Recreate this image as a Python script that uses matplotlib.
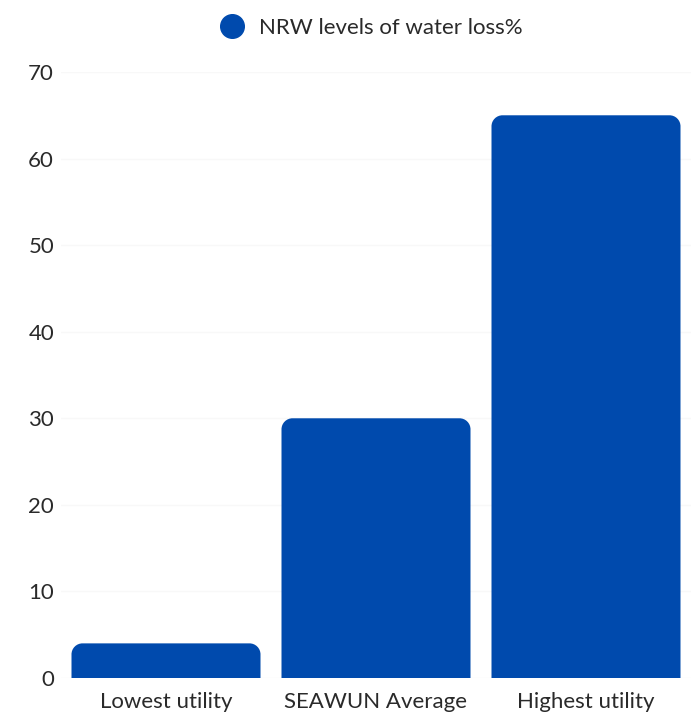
import matplotlib.pyplot as plt
from matplotlib.path import Path
from matplotlib.patches import PathPatch
from matplotlib.lines import Line2D

# Data
categories = ['Lowest utility', 'SEAWUN Average', 'Highest utility']
nrw_loss = [4, 30, 65]
series_name = 'NRW levels of water loss%'
y_ticks = [0, 10, 20, 30, 40, 50, 60, 70]

bar_color = '#004AAD'
text_color = '#2a2a2a'

plt.rcParams['font.family'] = ['Lato', 'DejaVu Sans']
plt.rcParams['font.weight'] = 'normal'

fig = plt.figure(figsize=(6.92, 7.21), dpi=100)
ax = fig.add_axes([61 / 692, 43 / 721, 630 / 692, 606 / 721])

bars = ax.bar(range(len(categories)), nrw_loss, width=0.9, color=bar_color)
ax.set_xlim(-0.5, 2.5)
ax.set_ylim(0, 70)

# swap the plain rectangles for ones with rounded top corners
fig.canvas.draw()
px_x = ax.transData.transform((1, 0))[0] - ax.transData.transform((0, 0))[0]
px_y = ax.transData.transform((0, 1))[1] - ax.transData.transform((0, 0))[1]
r_px = 11
rx, ry = r_px / px_x, r_px / px_y
k = 0.5523
for b in bars:
    x0, w, h = b.get_x(), b.get_width(), b.get_height()
    x1 = x0 + w
    verts = [
        (x0, 0), (x0, h - ry),
        (x0, h - ry + k * ry), (x0 + rx - k * rx, h), (x0 + rx, h),
        (x1 - rx, h),
        (x1 - rx + k * rx, h), (x1, h - ry + k * ry), (x1, h - ry),
        (x1, 0), (x0, 0),
    ]
    codes = [Path.MOVETO, Path.LINETO,
             Path.CURVE4, Path.CURVE4, Path.CURVE4,
             Path.LINETO,
             Path.CURVE4, Path.CURVE4, Path.CURVE4,
             Path.LINETO, Path.CLOSEPOLY]
    b.set_visible(False)
    ax.add_patch(PathPatch(Path(verts, codes), facecolor=bar_color,
                           edgecolor='none', zorder=3))

ax.set_yticks(y_ticks)
ax.set_xticks(range(len(categories)))
ax.set_xticklabels(categories)
ax.grid(axis='y', color='#f8f8f8', linewidth=1, zorder=0)
ax.set_axisbelow(True)
for s in ax.spines.values():
    s.set_visible(False)
ax.tick_params(axis='both', length=0, labelsize=16, labelcolor=text_color)
ax.tick_params(axis='x', pad=10)
ax.tick_params(axis='y', pad=5)

handle = Line2D([], [], marker='o', linestyle='none', markersize=17,
                markerfacecolor=bar_color, markeredgecolor=bar_color)
fig.legend([handle], [series_name], loc='center', bbox_to_anchor=(366 / 692, 1 - 28 / 721),
           frameon=False, fontsize=16, labelcolor=text_color, handletextpad=0.2)

fig.savefig('out.png', dpi=100)
